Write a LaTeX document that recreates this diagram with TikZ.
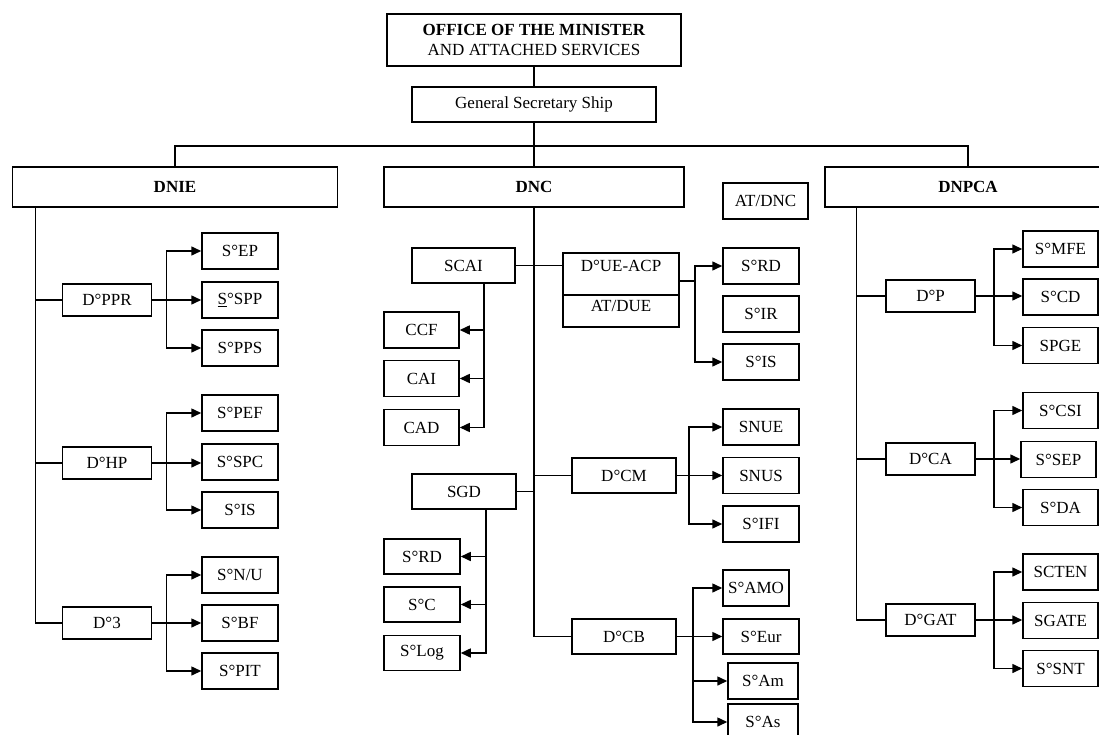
\documentclass[tikz,border=0pt]{standalone}
\usepackage{fontspec}
\setmainfont{Liberation Serif}
\usetikzlibrary{arrows.meta}
\begin{document}
\begin{tikzpicture}[x=1pt,y=-1pt,line width=1.5pt,
  box/.style={draw,inner sep=0pt,align=center,font=\fontsize{17}{20}\selectfont},
  hbox/.style={box,minimum height=40pt,font=\fontsize{17}{20}\selectfont\bfseries},
  dbox/.style={box,minimum width=89pt,minimum height=32pt},
  sbox/.style={box,minimum width=76pt,minimum height=36pt},
  arr/.style={-{Triangle[length=10pt,width=9pt]}}]
\useasboundingbox(0,0)rectangle(1099,735);
% top of the chart
\node[box,minimum width=294pt,minimum height=52pt](office)at(534,40){\textbf{OFFICE OF THE MINISTER}\\AND ATTACHED SERVICES};
\node[box,minimum width=244pt,minimum height=35pt](gss)at(534,104.5){General Secretary Ship};
\node[hbox,minimum width=325pt](dnie)at(175,187){DNIE};
\node[hbox,minimum width=300pt](dnc)at(534,187){DNC};
\node[hbox,minimum width=286pt](dnpca)at(968,187){DNPCA};
\node[box,minimum width=85pt,minimum height=36pt](atdnc)at(765.5,201){AT/DNC};
\coordinate(bus)at(534,146);
\draw(office)--(gss);\draw(gss)--(dnc);\draw(dnie.north)|-(bus)-|(dnpca.north);
% DNIE
\foreach \n/\t/\y in {dppr/D°PPR/300,dhp/D°HP/463,dthree/D°3/623}{\node[dbox](\n)at(107,\y){\t};}
\foreach \n/\t/\y in {sep/S°EP/251,sspp/\underline{S}°SPP/300,spps/S°PPS/348,spef/S°PEF/413,sspc/S°SPC/462,sis/S°IS/510,snu/{S°N/U}/575,sbf/S°BF/623,spit/S°PIT/671}{\node[sbox](\n)at(240,\y){\t};}
\coordinate(tnie)at([xshift=23.5pt]dnie.south west);
\draw(tnie)|-(dthree.west);\foreach \n in {dppr,dhp}{\draw(tnie|-\n.west)--(\n.west);}
\foreach \d/\a/\b/\c in {dppr/sep/sspp/spps,dhp/spef/sspc/sis,dthree/snu/sbf/spit}{
  \draw(\d.east)--++(14,0)coordinate(f);\draw[arr](f)|-(\a.west);\draw[arr](f)|-(\c.west);\draw[arr](\d.east)--(\d.east-|\b.west);}
% DNC
\coordinate(tdnc)at(dnc.south);
\node[box,minimum width=103pt,minimum height=35pt](scai)at(463.5,265.5){SCAI};
\node[box,minimum width=116pt,minimum height=42pt,text height=12pt,text depth=17pt](dueacp)at(621,274){D°UE-ACP};
\node[box,minimum width=116pt,minimum height=32pt,text height=13pt,text depth=12pt](atdue)at(621,311){AT/DUE};
\foreach \n/\t/\y in {ccf/CCF/330,cai/CAI/378.5,cad/CAD/427.5}{\node[sbox,minimum width=75pt](\n)at(421.5,\y){\t};}
\foreach \n/\t/\y in {srdr/S°RD/266,sir/S°IR/314,sisr/S°IS/362,snue/SNUE/427,snus/SNUS/475.5,sifi/S°IFI/524}{\node[sbox](\n)at(761,\y){\t};}
\node[box,minimum width=104pt,minimum height=35pt](sgd)at(464,491.5){SGD};
\foreach \n/\t/\y in {srdl/S°RD/556.5,sc/S°C/604.5,slog/S°Log/653}{\node[sbox,minimum height=35pt](\n)at(422,\y){\t};}
\node[box,minimum width=104pt,minimum height=35pt](dcm)at(624,475.5){D°CM};
\node[box,minimum width=104pt,minimum height=35pt](dcb)at(624,636.5){D°CB};
\node[sbox,minimum width=66pt](samo)at(756,588){S°AMO};
\node[sbox,minimum height=35pt](seur)at(761,636.5){S°Eur};
\node[sbox,minimum width=70pt](sam)at(763,681){S°Am};
\node[sbox,minimum width=70pt](sas)at(763,722){S°As};
\draw(tdnc)|-(dcb.west);\draw(tdnc|-dcm.west)--(dcm.west);
\draw(scai.east)--(scai.east-|dueacp.west);\draw(sgd.east)--(sgd.east-|tdnc);
\coordinate(dscai)at([xshift=20.5pt]scai.south);
\draw[arr](dscai)|-(cad.east);\foreach \n in {ccf,cai}{\draw[arr](dscai|-\n.east)--(\n.east);}
\coordinate(dsgd)at([xshift=22pt]sgd.south);
\draw[arr](dsgd)|-(slog.east);\foreach \n in {srdl,sc}{\draw[arr](dsgd|-\n.east)--(\n.east);}
\coordinate(fue)at([xshift=15pt,yshift=-7pt]dueacp.east);
\draw(dueacp.east|-fue)--(fue);\draw[arr](fue)|-(srdr.west);\draw[arr](fue)|-(sisr.west);
\draw(dcm.east)--++(12,0)coordinate(fcm);\draw[arr](fcm)|-(snue.west);\draw[arr](fcm)|-(sifi.west);\draw[arr](dcm.east)--(dcm.east-|snus.west);
\draw(dcb.east)--++(16,0)coordinate(fcb);\draw[arr](fcb)|-(samo.west);\draw[arr](fcb)|-(sas.west);\draw[arr](dcb.east)--(dcb.east-|seur.west);\draw[arr](fcb|-sam.west)--(sam.west);
% DNPCA
\foreach \n/\t/\y in {dp/D°P/296,dca/D°CA/459,dgat/D°GAT/620}{\node[dbox](\n)at(930.5,\y){\t};}
\foreach \n/\t/\y in {smfe/S°MFE/249,scd/S°CD/297,spge/SPGE/345.5,scsi/S°CSI/410.5,sda/S°DA/507.5,scten/SCTEN/572,sgate/SGATE/620.5,ssnt/S°SNT/668.5}{\node[sbox,minimum width=75pt](\n)at(1060.5,\y){\t};}
\node[sbox,minimum width=75pt](ssep)at(1058.5,459.5){S°SEP};
\coordinate(tnpca)at([xshift=32pt]dnpca.south west);
\draw(tnpca)|-(dgat.west);\foreach \n in {dp,dca}{\draw(tnpca|-\n.west)--(\n.west);}
\foreach \d/\a/\b/\c in {dp/smfe/scd/spge,dca/scsi/ssep/sda,dgat/scten/sgate/ssnt}{
  \draw(\d.east)--++(18,0)coordinate(f);\draw[arr](f)|-(\a.west);\draw[arr](f)|-(\c.west);\draw[arr](\d.east)--(\d.east-|\b.west);}
\end{tikzpicture}
\end{document}
